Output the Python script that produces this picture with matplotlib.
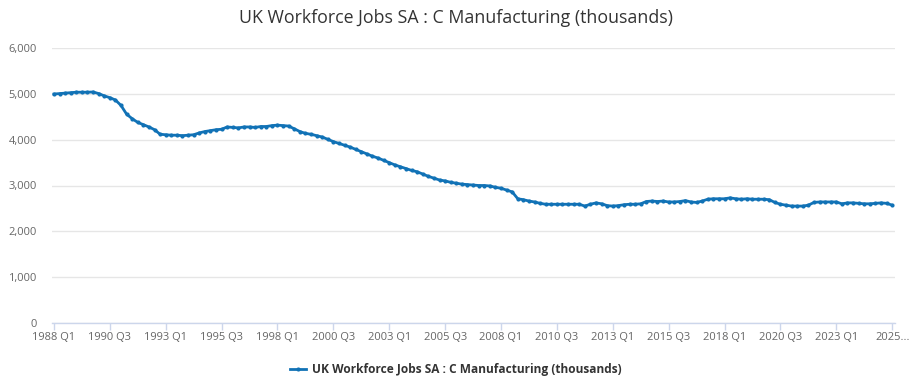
import matplotlib.pyplot as plt
from matplotlib.lines import Line2D
from matplotlib.ticker import FuncFormatter

# --- Data: UK Workforce Jobs SA, C Manufacturing (thousands), 1988 Q1 .. 2025 Q3 ---
START_YEAR = 1988
jobs = [
    5000, 5010, 5020, 5030, 5040, 5040, 5040, 5045, 5010, 4960,
    4920, 4870, 4750, 4560, 4460, 4380, 4330, 4280, 4220, 4120,
    4110, 4100, 4100, 4090, 4100, 4110, 4150, 4180, 4200, 4220,
    4230, 4280, 4270, 4260, 4280, 4280, 4270, 4290, 4290, 4310,
    4320, 4310, 4300, 4240, 4180, 4140, 4120, 4090, 4060, 4010,
    3960, 3920, 3880, 3840, 3790, 3740, 3690, 3640, 3600, 3550,
    3500, 3450, 3410, 3370, 3330, 3300, 3250, 3200, 3160, 3120,
    3100, 3070, 3050, 3030, 3020, 3010, 3000, 3000, 2990, 2960,
    2940, 2900, 2860, 2710, 2690, 2660, 2640, 2610, 2590, 2590,
    2590, 2590, 2590, 2590, 2590, 2550, 2590, 2620, 2600, 2560,
    2550, 2560, 2580, 2590, 2590, 2600, 2650, 2660, 2650, 2660,
    2640, 2640, 2650, 2670, 2640, 2630, 2660, 2700, 2710, 2710,
    2710, 2730, 2710, 2700, 2710, 2700, 2700, 2700, 2690, 2630,
    2590, 2570, 2550, 2550, 2550, 2570, 2630, 2640, 2640, 2640,
    2640, 2600, 2620, 2620, 2610, 2600, 2600, 2610, 2620, 2610,
    2570,
]
quarters = [f"{START_YEAR + i // 4} Q{i % 4 + 1}" for i in range(len(jobs))]
y_ticks = [0, 1000, 2000, 3000, 4000, 5000, 6000]
TICK_STEP = 10

TITLE = "UK Workforce Jobs SA : C Manufacturing (thousands)"
LINE_COLOR = '#1172b6'
FONT = ['Open Sans', 'DejaVu Sans']

plt.rcParams['font.family'] = FONT

fig = plt.figure(figsize=(9.12, 3.85), dpi=100)
ax = fig.add_axes([52 / 912, 1 - 322.7 / 385, (895 - 52) / 912, (322.7 - 48.3) / 385])

x = list(range(len(jobs)))
ax.plot(x, jobs, color=LINE_COLOR, linewidth=2, marker='o', markersize=3,
        markeredgewidth=0, zorder=3)

# Axes ranges
ax.set_xlim(-0.35, len(jobs) - 1 + 0.5)
ax.set_ylim(0, 6000)

# Y axis: gridlines, no spine
ax.set_yticks(y_ticks)
ax.yaxis.set_major_formatter(FuncFormatter(lambda v, _: f"{int(v):,}"))
ax.grid(axis='y', color='#e6e6e6', linewidth=1)
ax.set_axisbelow(True)
ax.tick_params(axis='y', length=0, pad=11, labelsize=8, labelcolor='#666666')

# X axis: category ticks every 10 quarters
xt = list(range(0, len(jobs), TICK_STEP))
labels = [quarters[i] for i in xt]
labels[-1] = labels[-1][:4] + '...'
ax.set_xticks(xt)
ax.set_xticklabels(labels)
ax.tick_params(axis='x', length=5, width=1, color='#ccd6eb', pad=2,
               labelsize=8, labelcolor='#666666')

for side in ('top', 'right', 'left'):
    ax.spines[side].set_visible(False)
ax.spines['bottom'].set_color('#ccd6eb')
ax.spines['bottom'].set_linewidth(1)

fig.text(0.5, 1 - 18 / 385, TITLE, ha='center', va='center',
         fontsize=12.8, color='#333333')

# Legend at bottom
handle = Line2D([0], [0], color=LINE_COLOR, linewidth=2, marker='o',
                markersize=3, markeredgewidth=0)
fig.legend(handles=[handle], labels=[TITLE], loc='center',
           bbox_to_anchor=(0.5, 1 - 370 / 385), frameon=False,
           prop={'weight': 'bold', 'size': 8.6}, labelcolor='#333333',
           handlelength=1.3, handletextpad=0.5)

fig.savefig('out.png', dpi=100)
